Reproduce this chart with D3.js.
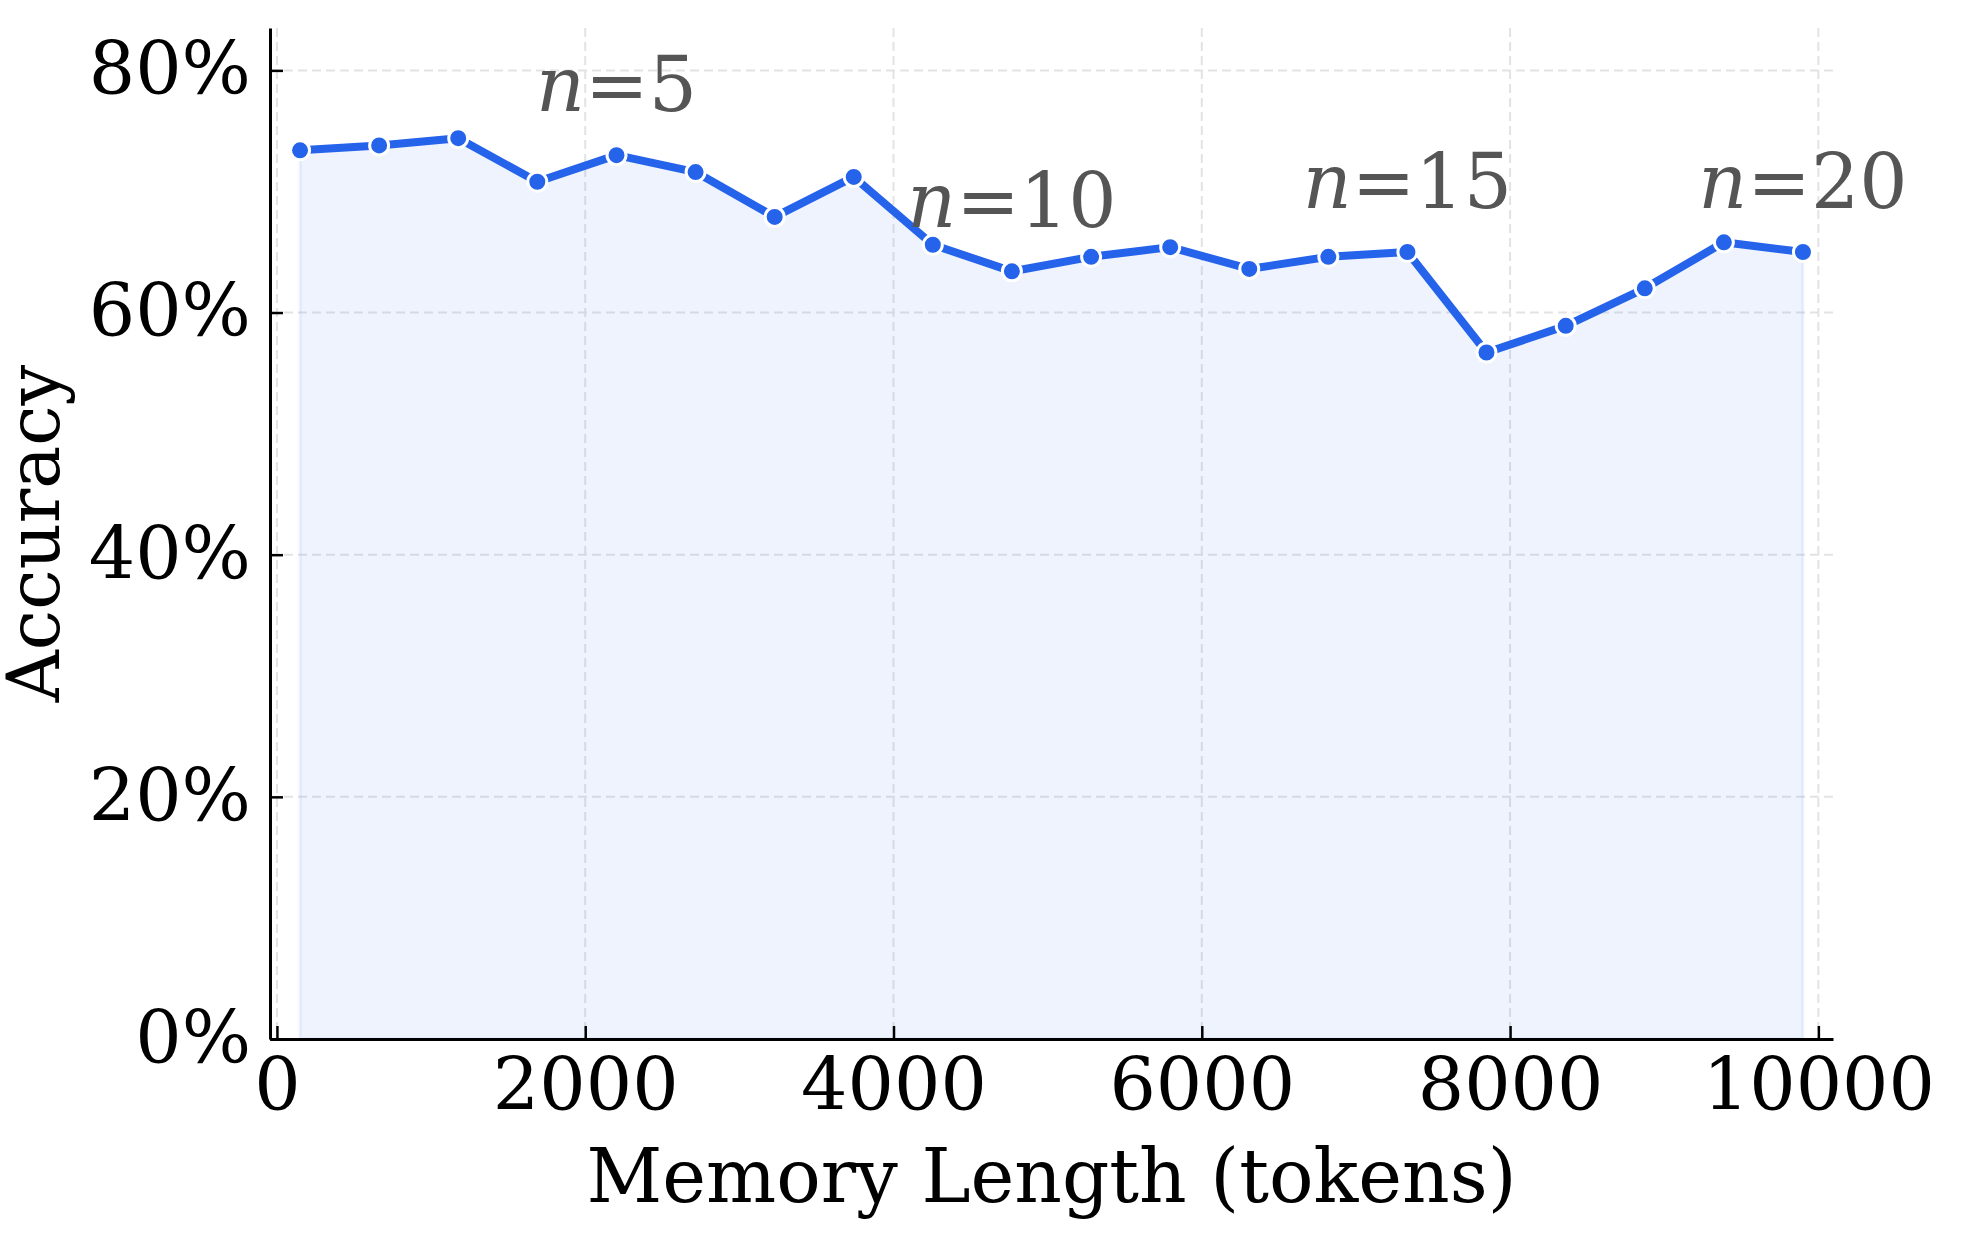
<!DOCTYPE html>
<html>
<head>
<meta charset="utf-8">
<script src="https://cdn.jsdelivr.net/npm/d3@7"></script>
<style>
  body { margin: 0; background: #fff; }
  svg { display: block; font-family: "DejaVu Serif", serif; }
</style>
</head>
<body>
<div id="chart"></div>
<script>
const width = 1967;
const height = 1248;

// memory length (tokens) for each run
const memoryLength = [150, 663, 1176, 1689, 2203, 2716, 3229, 3742, 4255, 4768,
  5282, 5795, 6308, 6821, 7334, 7847, 8361, 8874, 9387, 9900];
// accuracy (fraction) for each run
const accuracy = [0.734, 0.738, 0.744, 0.708, 0.730, 0.716, 0.679, 0.712, 0.656, 0.634,
  0.646, 0.654, 0.636, 0.646, 0.650, 0.567, 0.589, 0.620, 0.658, 0.650];
// annotated values of n (n-th point)
const annotatedN = [5, 10, 15, 20];

const xTicks = [0, 2000, 4000, 6000, 8000, 10000];
const yTicks = [0, 0.2, 0.4, 0.6, 0.8];

const margin = { top: 28, right: 134, bottom: 209, left: 270 };

const data = memoryLength.map((m, i) => ({ x: m, y: accuracy[i] }));

const x = d3.scaleLinear()
  .domain([-45, 10095])
  .range([margin.left, width - margin.right]);

const y = d3.scaleLinear()
  .domain([0, 0.835])
  .range([height - margin.bottom, margin.top]);

const svg = d3.select("#chart").append("svg")
  .attr("width", width)
  .attr("height", height);

// grid
const grid = svg.append("g")
  .attr("stroke", "#e3e3e6")
  .attr("stroke-width", 2)
  .attr("stroke-dasharray", "9,5");

grid.selectAll("line.v")
  .data(xTicks)
  .join("line")
  .attr("class", "v")
  .attr("x1", d => x(d)).attr("x2", d => x(d))
  .attr("y1", y.range()[1]).attr("y2", y.range()[0]);

grid.selectAll("line.h")
  .data(yTicks.filter(d => d > 0))
  .join("line")
  .attr("class", "h")
  .attr("x1", x.range()[0]).attr("x2", x.range()[1])
  .attr("y1", d => y(d)).attr("y2", d => y(d));

// filled area under the line
const area = d3.area()
  .x(d => x(d.x))
  .y0(y(0))
  .y1(d => y(d.y));

svg.append("path")
  .datum(data)
  .attr("d", area)
  .attr("fill", "rgba(37,99,235,0.08)")
  .attr("stroke", "rgba(37,99,235,0.08)")
  .attr("stroke-width", 3);

// line
const line = d3.line()
  .x(d => x(d.x))
  .y(d => y(d.y));

svg.append("path")
  .datum(data)
  .attr("d", line)
  .attr("fill", "none")
  .attr("stroke", "#2563eb")
  .attr("stroke-width", 8)
  .attr("stroke-linejoin", "round");

svg.append("g")
  .selectAll("circle")
  .data(data)
  .join("circle")
  .attr("cx", d => x(d.x))
  .attr("cy", d => y(d.y))
  .attr("r", 9.5)
  .attr("fill", "#2563eb")
  .attr("stroke", "#fff")
  .attr("stroke-width", 3);

// annotations
const notes = svg.append("g")
  .attr("fill", "#555")
  .attr("font-size", 76)
  .attr("text-anchor", "middle")
  .selectAll("text")
  .data(annotatedN)
  .join("text")
  .attr("x", n => x(data[n - 1].x))
  .attr("y", n => y(data[n - 1].y) - 44);

notes.append("tspan").attr("font-style", "italic").text("n");
notes.append("tspan").text(n => "=" + n);

// axes
const xAxis = svg.append("g")
  .attr("transform", `translate(0,${y(0)})`)
  .call(d3.axisBottom(x)
    .tickValues(xTicks)
    .tickFormat(d3.format("d"))
    .tickSizeInner(-13)
    .tickSizeOuter(0)
    .tickPadding(19));

const yAxis = svg.append("g")
  .attr("transform", `translate(${x.range()[0]},0)`)
  .call(d3.axisLeft(y)
    .tickValues(yTicks)
    .tickFormat(d3.format(".0%"))
    .tickSizeInner(-13)
    .tickSizeOuter(0)
    .tickPadding(19));

[xAxis, yAxis].forEach(g => {
  g.attr("font-family", "DejaVu Serif").attr("font-size", 73);
  g.select(".domain").attr("stroke", "#000").attr("stroke-width", 3);
  g.selectAll(".tick line").attr("stroke", "#000").attr("stroke-width", 2.5);
  g.selectAll(".tick text").attr("fill", "#000");
});

// axis titles
svg.append("text")
  .attr("x", (x.range()[0] + x.range()[1]) / 2)
  .attr("y", 1202)
  .attr("text-anchor", "middle")
  .attr("font-size", 74)
  .attr("fill", "#000")
  .text("Memory Length (tokens)");

svg.append("text")
  .attr("transform", `translate(59,${(y.range()[0] + y.range()[1]) / 2}) rotate(-90)`)
  .attr("text-anchor", "middle")
  .attr("font-size", 72)
  .attr("fill", "#000")
  .text("Accuracy");
</script>
</body>
</html>
